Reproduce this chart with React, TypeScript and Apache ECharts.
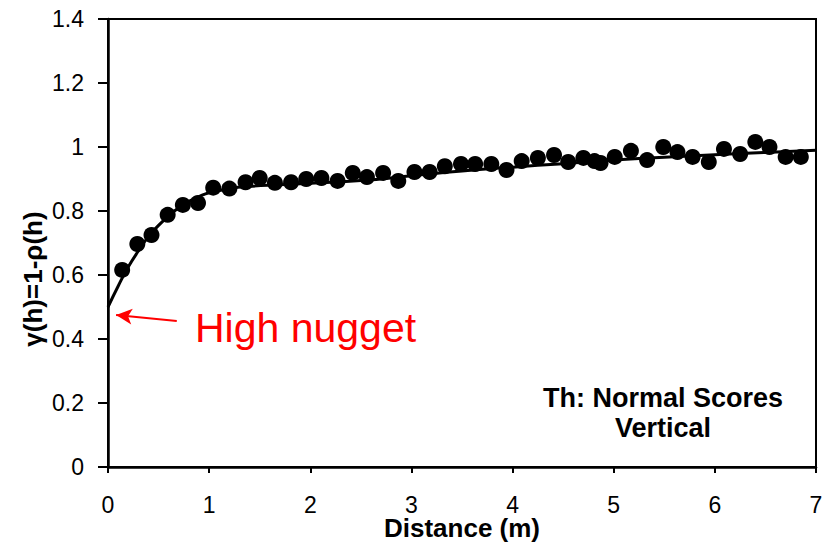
import React, { useEffect, useRef } from "react";
import * as echarts from "echarts";

// Experimental variogram points: lag distance (m) and gamma(h)
const lagDistances = [
  0.14, 0.29, 0.43, 0.59, 0.74, 0.89, 1.04, 1.2, 1.36, 1.5, 1.65, 1.81, 1.96,
  2.11, 2.27, 2.42, 2.56, 2.72, 2.87, 3.03, 3.18, 3.33, 3.49, 3.63, 3.79, 3.94,
  4.09, 4.25, 4.41, 4.55, 4.7, 4.81, 4.87, 5.01, 5.17, 5.33, 5.49, 5.63, 5.78,
  5.94, 6.09, 6.25, 6.4, 6.54, 6.7, 6.85,
];
const gammaValues = [
  0.616, 0.697, 0.725, 0.788, 0.819, 0.825, 0.873, 0.87, 0.89, 0.903, 0.888,
  0.89, 0.9, 0.903, 0.894, 0.919, 0.906, 0.919, 0.894, 0.922, 0.922, 0.94,
  0.947, 0.947, 0.947, 0.928, 0.956, 0.966, 0.975, 0.953, 0.966, 0.956, 0.95,
  0.969, 0.988, 0.959, 1.0, 0.984, 0.969, 0.953, 0.994, 0.978, 1.016, 1.0,
  0.969, 0.969,
];

// Fitted variogram model (high nugget of 0.5 at the origin)
const modelDistances = [
  0, 0.1, 0.2, 0.3, 0.4, 0.5, 0.6, 0.7, 0.8, 0.9, 1.0, 1.2, 1.4, 1.7, 2.0, 2.5,
  3.0, 3.5, 4.0, 4.5, 5.0, 5.5, 6.0, 6.5, 7.0,
];
const modelValues = [
  0.5, 0.565, 0.625, 0.675, 0.72, 0.755, 0.785, 0.81, 0.83, 0.845, 0.857, 0.87,
  0.877, 0.882, 0.887, 0.895, 0.91, 0.925, 0.937, 0.948, 0.959, 0.968, 0.976,
  0.983, 0.99,
];

// Arrow pointing at the nugget: tail and tip in data coordinates
const arrowTail = [0.68, 0.456];
const arrowTip = [0.08, 0.475];

const xTicks = [0, 1, 2, 3, 4, 5, 6, 7];
const yTicks = [0, 0.2, 0.4, 0.6, 0.8, 1, 1.2, 1.4];

const FONT = "'Liberation Sans', Arial, Helvetica, sans-serif";

export default function App() {
  const ref = useRef<HTMLDivElement>(null);

  useEffect(() => {
    if (!ref.current) return;
    const chart = echarts.init(ref.current, undefined, { renderer: "svg" });

    const points = lagDistances.map((d, i) => [d, gammaValues[i]]);
    const model = modelDistances.map((d, i) => [d, modelValues[i]]);

    chart.setOption({
      animation: false,
      backgroundColor: "#ffffff",
      textStyle: { fontFamily: FONT },
      grid: {
        left: 108,
        right: 16,
        top: 19,
        bottom: 77,
        outerBoundsMode: "none",
        containLabel: false,
        show: true,
        borderColor: "#000000",
        borderWidth: 2,
      },
      xAxis: {
        type: "value",
        min: xTicks[0],
        max: xTicks[xTicks.length - 1],
        interval: 1,
        name: "Distance (m)",
        nameLocation: "middle",
        nameGap: 51,
        nameMoveOverlap: false,
        nameTextStyle: {
          fontFamily: FONT,
          fontSize: 26,
          lineHeight: 20,
          fontWeight: "bold",
          color: "#000000",
        },
        axisLine: { lineStyle: { color: "#000000", width: 2.5 } },
        axisTick: { show: true, length: 6, lineStyle: { color: "#000000", width: 2 } },
        axisLabel: {
          margin: 29.5,
          fontFamily: FONT,
          fontSize: 23,
          lineHeight: 16,
          color: "#000000",
        },
        splitLine: { show: false },
      },
      yAxis: {
        type: "value",
        min: yTicks[0],
        max: yTicks[yTicks.length - 1],
        interval: 0.2,
        axisLine: { show: true, lineStyle: { color: "#000000", width: 2.5 } },
        axisTick: { show: true, length: 10, lineStyle: { color: "#000000", width: 2 } },
        axisLabel: {
          margin: 24,
          fontFamily: FONT,
          fontSize: 23,
          color: "#000000",
          formatter: (v: number) => String(Math.round(v * 10) / 10),
        },
        splitLine: { show: false },
      },
      graphic: [
        {
          type: "text",
          x: 33,
          y: 279,
          rotation: Math.PI / 2,
          style: {
            text: "γ(h)=1-ρ(h)",
            fontFamily: FONT,
            fontSize: 26,
            fontWeight: "bold",
            fill: "#000000",
            align: "center",
            verticalAlign: "middle",
          },
        },
        {
          type: "text",
          x: 195,
          y: 328,
          style: {
            text: "High nugget",
            fontFamily: FONT,
            fontSize: 41,
            fill: "#ff0000",
            align: "left",
            verticalAlign: "middle",
          },
        },
        {
          type: "text",
          x: 663,
          y: 413,
          style: {
            text: "Th: Normal Scores\nVertical",
            fontFamily: FONT,
            fontSize: 27,
            fontWeight: "bold",
            lineHeight: 30,
            fill: "#000000",
            align: "center",
            verticalAlign: "middle",
          },
        },
      ],
      series: [
        {
          name: "Model",
          type: "line",
          data: model,
          smooth: true,
          showSymbol: false,
          symbol: "none",
          lineStyle: { color: "#000000", width: 3 },
          z: 2,
        },
        {
          name: "Experimental",
          type: "scatter",
          data: points,
          symbol: "circle",
          symbolSize: 16,
          itemStyle: { color: "#000000", opacity: 1 },
          z: 3,
          markLine: {
            silent: true,
            symbol: ["none", "arrow"],
            symbolSize: [12, 16],
            label: { show: false },
            lineStyle: { color: "#ff0000", width: 2, type: "solid" },
            data: [[{ coord: arrowTail }, { coord: arrowTip }]],
          },
        },
      ],
    });

    return () => chart.dispose();
  }, []);

  return (
    <div
      ref={ref}
      style={{ position: "fixed", left: 0, top: 0, width: 832, height: 544 }}
    />
  );
}
